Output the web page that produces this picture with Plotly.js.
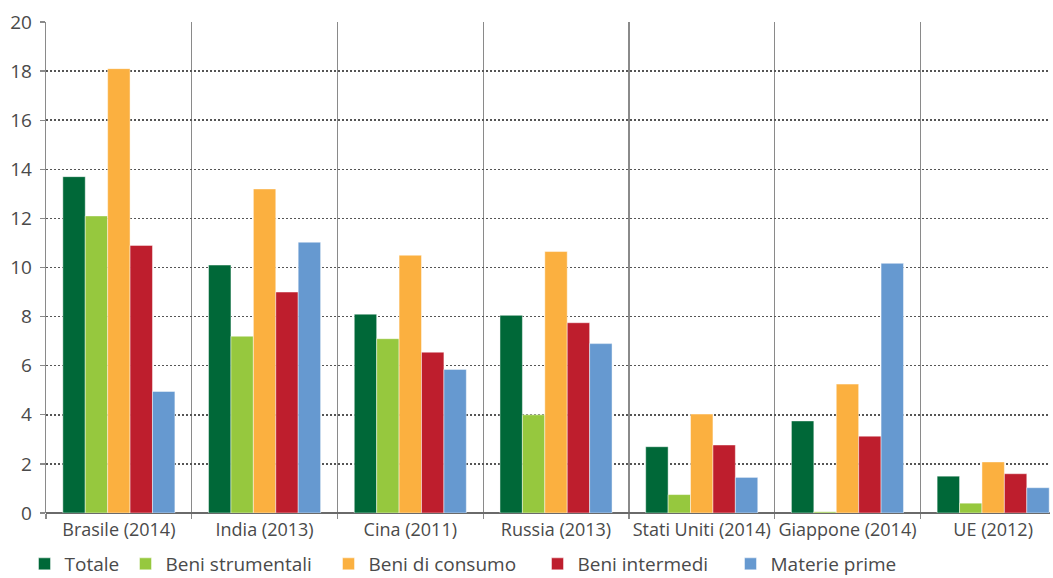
<!DOCTYPE html>
<html>
<head>
<meta charset="utf-8">
<script src="https://cdn.plot.ly/plotly-3.0.1.min.js"></script>
<style>
  html, body { margin: 0; padding: 0; background: #fff; overflow: hidden; }
  #chart { width: 1053px; height: 578px; }
</style>
</head>
<body>
<div id="chart"></div>
<script>
// Countries (with reference year) along the x axis
const categories = [
  "Brasile (2014)", "India (2013)", "Cina (2011)", "Russia (2013)",
  "Stati Uniti (2014)", "Giappone (2014)", "UE (2012)"
];

// Average tariff by product group
const totale          = [13.7, 10.1, 8.1, 8.05, 2.7, 3.75, 1.5];
const beniStrumentali = [12.1, 7.2, 7.1, 4.0, 0.75, 0.05, 0.4];
const beniConsumo     = [18.1, 13.2, 10.5, 10.65, 4.03, 5.25, 2.08];
const beniIntermedi   = [10.9, 9.0, 6.55, 7.75, 2.77, 3.13, 1.6];
const materiePrime    = [4.95, 11.03, 5.85, 6.9, 1.45, 10.17, 1.03];

const seriesNames  = ["Totale", "Beni strumentali", "Beni di consumo", "Beni intermedi", "Materie prime"];
const seriesValues = [totale, beniStrumentali, beniConsumo, beniIntermedi, materiePrime];
const seriesColors = ["#006838", "#96c83e", "#fbb040", "#be1e2d", "#6699d0"];

const yTicks = [0, 2, 4, 6, 8, 10, 12, 14, 16, 18, 20];

// one legend per series so each key sits at its own spot along the bottom row
const legendIds = ["legend", "legend2", "legend3", "legend4", "legend5"];
const legendLeft = [24.5, 125.5, 328.5, 537.5, 730.5];

const traces = seriesNames.map((name, i) => ({
  type: "bar",
  name: name,
  x: categories,
  y: seriesValues[i],
  legend: legendIds[i],
  marker: {
    color: seriesColors[i],
    line: { color: "rgba(255,255,255,0.45)", width: 1 }
  },
  hoverinfo: "x+y+name"
}));

const font = "'Open Sans', 'Noto Sans', sans-serif";
const W = 1053, H = 578;

const layout = {
  width: W,
  height: H,
  margin: { l: 46, r: 3, t: 22, b: 65 },
  paper_bgcolor: "#ffffff",
  plot_bgcolor: "#ffffff",
  barmode: "group",
  bargap: 0.231,
  bargroupgap: 0,
  font: { family: font, color: "#4a4a4a" },
  xaxis: {
    type: "category",
    range: [-0.5, 6.39],
    tickson: "boundaries",
    tickangle: 0,
    showgrid: true,
    gridcolor: "#8a8a8a",
    gridwidth: 1.3,
    ticks: "outside",
    ticklen: 5,
    tickcolor: "#8a8a8a",
    tickwidth: 1.3,
    ticklabelstandoff: 4,
    tickfont: { family: font, size: 18, color: "#4a4a4a" },
    showline: false,
    zeroline: false,
    fixedrange: true
  },
  yaxis: {
    range: [0, 20],
    tickvals: yTicks,
    ticktext: yTicks.map(String),
    showgrid: true,
    gridcolor: "#555555",
    gridwidth: 1.5,
    griddash: "2px,2px",
    zeroline: true,
    zerolinecolor: "#6a6a6a",
    zerolinewidth: 2,
    showline: true,
    linecolor: "#8a8a8a",
    linewidth: 1.3,
    ticks: "outside",
    ticklen: 5,
    tickcolor: "#8a8a8a",
    tickwidth: 1.3,
    ticklabelstandoff: 4,
    tickfont: { family: font, size: 19, color: "#4a4a4a" },
    fixedrange: true
  },
  showlegend: true
};

legendIds.forEach((id, i) => {
  layout[id] = {
    orientation: "h",
    xref: "container",
    yref: "container",
    x: legendLeft[i] / W,
    xanchor: "left",
    y: 1 - 564 / H,
    yanchor: "middle",
    borderwidth: 0,
    font: { family: font, size: 19, color: "#4a4a4a" },
    itemwidth: 30,
    bgcolor: "rgba(0,0,0,0)"
  };
});

Plotly.newPlot("chart", traces, layout, { displayModeBar: false, staticPlot: true });
</script>
</body>
</html>
